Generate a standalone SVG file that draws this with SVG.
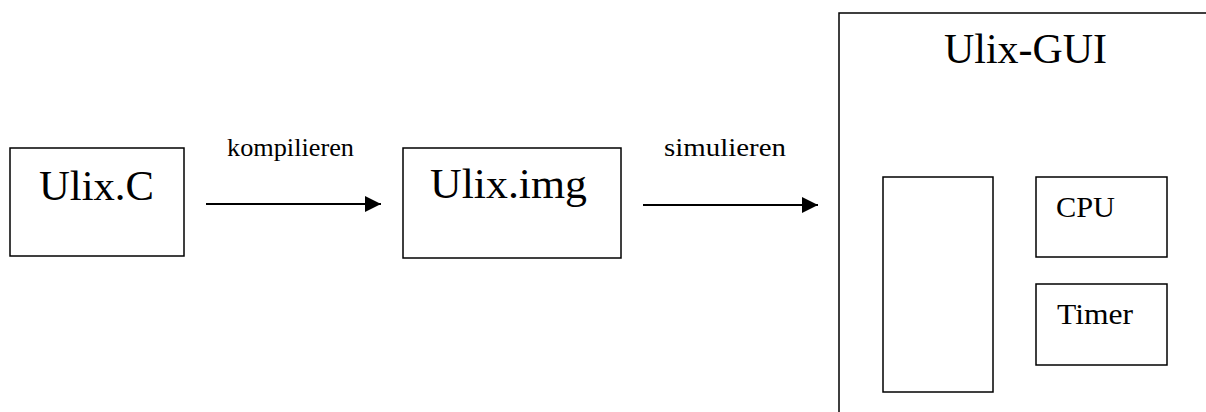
<svg xmlns="http://www.w3.org/2000/svg" width="1206" height="412" viewBox="0 0 1206 412">
<style>
.box{fill:#fff;stroke:#000;stroke-width:1.5}
.big{font-family:"Liberation Serif","Times New Roman",serif;font-size:42px;fill:#000}
.mid{font-family:"Liberation Serif","Times New Roman",serif;font-size:30px;fill:#000}
.lbl{font-family:"Liberation Serif","Times New Roman",serif;font-size:26px;fill:#000}
.conn{stroke:#000;stroke-width:2;fill:none}
</style>
<defs>
<marker id="arr" markerUnits="userSpaceOnUse" markerWidth="16" markerHeight="16" refX="16" refY="8" orient="auto">
<path d="M0,0 L16,8 L0,16 Z" fill="#000"/>
</marker>
</defs>
<rect width="1206" height="412" fill="#fff"/>
<g id="ulix-c">
<rect class="box" x="10" y="148" width="174" height="108"/>
<text class="big" x="39" y="200" textLength="115" lengthAdjust="spacingAndGlyphs">Ulix.C</text>
</g>
<g id="ulix-img">
<rect class="box" x="403" y="148" width="218" height="110"/>
<text class="big" x="430" y="198" textLength="157" lengthAdjust="spacingAndGlyphs">Ulix.img</text>
</g>
<g id="ulix-gui">
<path class="box" d="M839,412 L839,13 L1207,13" fill="none"/>
<text class="big" x="944" y="63" textLength="163" lengthAdjust="spacingAndGlyphs">Ulix-GUI</text>
</g>
<g id="memory">
<rect class="box" x="883" y="177" width="110" height="215"/>
</g>
<g id="cpu">
<rect class="box" x="1036" y="177" width="131" height="80"/>
<text class="mid" x="1056" y="217" textLength="59" lengthAdjust="spacingAndGlyphs">CPU</text>
</g>
<g id="timer">
<rect class="box" x="1036" y="284" width="131" height="81"/>
<text class="mid" x="1057" y="324" textLength="76" lengthAdjust="spacingAndGlyphs">Timer</text>
</g>
<g id="connectors">
<line class="conn" x1="206" y1="204" x2="381" y2="204" marker-end="url(#arr)"/>
<text class="lbl" x="227" y="156" textLength="127" lengthAdjust="spacingAndGlyphs">kompilieren</text>
<line class="conn" x1="643" y1="205" x2="818" y2="205" marker-end="url(#arr)"/>
<text class="lbl" x="664" y="156" textLength="122" lengthAdjust="spacingAndGlyphs">simulieren</text>
</g>
</svg>
